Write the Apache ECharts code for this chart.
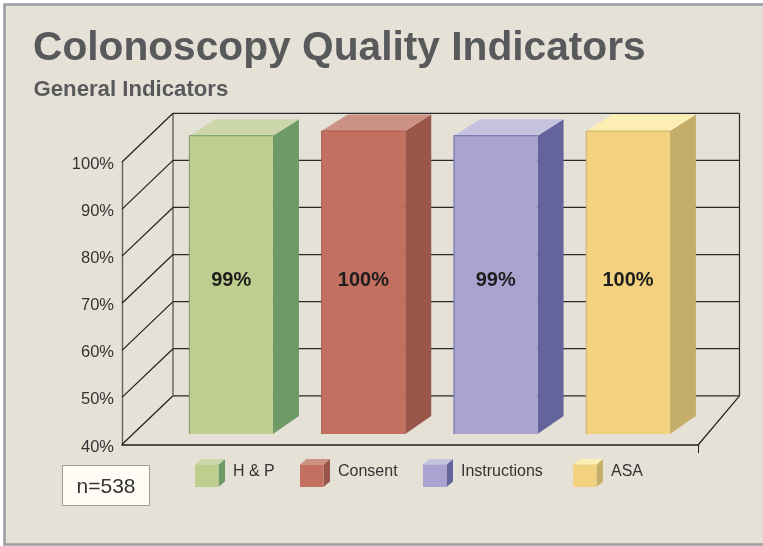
<!DOCTYPE html>
<html>
<head>
<meta charset="utf-8">
<title>Colonoscopy Quality Indicators</title>
<script src="https://cdn.jsdelivr.net/npm/echarts@6/dist/echarts.min.js"></script>
<style>
html, body { margin: 0; padding: 0; background: #fff; }
#chart { width: 763px; height: 546px; }
</style>
</head>
<body>
<div id="chart"></div>
<script>
var categories = ['H & P', 'Consent', 'Instructions', 'ASA'];
var values = [99, 100, 99, 100];
var yTicks = [40, 50, 60, 70, 80, 90, 100];
var sampleLabel = 'n=538';

var frontColors = ['#bfce8f', '#c37060', '#aaa3cf', '#f2d27f'];
var sideColors = ['#6e9a68', '#9a5649', '#65639c', '#c4ae6a'];
var topColors = ['#ccd8ab', '#cc9285', '#c5c2e0', '#fdeeb4'];
var edgeColors = ['#6f9c69', '#a85f50', '#6f6ba8', '#c9b36f'];
var legendX = [195, 300, 423, 573];

var font = '"Liberation Sans", Arial, sans-serif';
var chart = echarts.init(document.getElementById('chart'));

// depth of the back wall, in pixels
var wallDx = 51, wallDy = -48.7;
var floorDx = 41;

// the cubes stand inside the box, so they are lifted off the front plane
var barTopLift = -31, barBaseLift = -10.5;
var barDx = 26, barTopDy = -16.4, barBaseDy = -18;

function renderWall(params, api) {
    var tick = api.value(0);
    var y = api.coord([0, tick])[1];
    var box = params.coordSys;
    var x0 = box.x, x1 = box.x + box.width;
    var children = [
        { type: 'line', shape: { x1: x0, y1: y, x2: x0 + wallDx, y2: y + wallDy }, style: { stroke: '#1f1f1f', lineWidth: 1.2 } },
        { type: 'line', shape: { x1: x0 + wallDx, y1: y + wallDy, x2: x1 + floorDx, y2: y + wallDy }, style: { stroke: '#2a2a2a', lineWidth: 1.2 } }
    ];
    // only the floor level closes the box on the right
    if (tick === yTicks[0]) {
        var yTop = api.coord([0, yTicks[yTicks.length - 1]])[1] + wallDy;
        children.push(
            { type: 'line', shape: { x1: x0 + wallDx, y1: yTop, x2: x0 + wallDx, y2: y + wallDy }, style: { stroke: '#66625c', lineWidth: 1.4 } },
            { type: 'line', shape: { x1: x1 + floorDx, y1: yTop, x2: x1 + floorDx, y2: y + wallDy }, style: { stroke: '#2a2a2a', lineWidth: 1.2 } },
            { type: 'line', shape: { x1: x1, y1: y, x2: x1 + floorDx, y2: y + wallDy }, style: { stroke: '#1f1f1f', lineWidth: 1.2 } },
            { type: 'line', shape: { x1: x1, y1: y, x2: x1, y2: y + 8.5 }, style: { stroke: '#1f1f1f', lineWidth: 1 } }
        );
    }
    return { type: 'group', children: children };
}

function renderBar(params, api) {
    var i = api.value(0);
    var center = api.coord([i, api.value(1)]);
    var halfWidth = api.size([1, 0])[0] * 0.316;
    var xl = center[0] - halfWidth, xr = center[0] + halfWidth;
    var top = center[1] + barTopLift;
    var base = api.coord([i, yTicks[0]])[1] + barBaseLift;
    var labelY = api.coord([i, 74.8])[1];
    return {
        type: 'group',
        children: [
            { type: 'polygon', shape: { points: [[xr, top], [xr + barDx, top + barTopDy], [xr + barDx, base + barBaseDy], [xr, base]] }, style: { fill: sideColors[i] } },
            { type: 'polygon', shape: { points: [[xl, top], [xl + barDx, top + barTopDy], [xr + barDx, top + barTopDy], [xr, top]] }, style: { fill: topColors[i] } },
            { type: 'rect', shape: { x: xl, y: top, width: xr - xl, height: base - top }, style: { fill: frontColors[i] } },
            { type: 'polyline', shape: { points: [[xl, base], [xl, top], [xr, top]] }, style: { fill: 'none', stroke: edgeColors[i], lineWidth: 1 } },
            { type: 'text', style: { x: center[0], y: labelY, text: api.value(1) + '%', textAlign: 'center', textVerticalAlign: 'middle', font: 'bold 20px ' + font, fill: '#1d1d1d' } }
        ]
    };
}

// legend swatches and their labels
var legendGraphics = [];
categories.forEach(function (name, i) {
    var x = legendX[i], y = 464.5, w = 23.5, h = 22.5, dx = 6.5, dy = -5.5;
    legendGraphics.push(
        { type: 'polygon', z: 5, shape: { points: [[x + w, y], [x + w + dx, y + dy], [x + w + dx, y + h + dy], [x + w, y + h]] }, style: { fill: sideColors[i] } },
        { type: 'polygon', z: 5, shape: { points: [[x, y], [x + dx, y + dy], [x + w + dx, y + dy], [x + w, y]] }, style: { fill: topColors[i] } },
        { type: 'rect', z: 5, shape: { x: x, y: y, width: w, height: h }, style: { fill: frontColors[i] } },
        { type: 'text', z: 5, style: { x: x + w + 14.5, y: 471.5, text: name, textVerticalAlign: 'middle', font: '16px ' + font, fill: '#333' } }
    );
});

var option = {
    animation: false,
    graphic: [
        { type: 'rect', z: -10, shape: { x: 4.5, y: 4.5, width: 780, height: 540 }, style: { fill: '#e5e1d7', stroke: '#9c9ca0', lineWidth: 2.5 } },
        { type: 'rect', z: 5, shape: { x: 62.5, y: 465.5, width: 87, height: 40 }, style: { fill: '#fffcf6', stroke: '#9a9a96', lineWidth: 1 } },
        { type: 'text', z: 5, style: { x: 106, y: 487, text: sampleLabel, textAlign: 'center', textVerticalAlign: 'middle', font: '21px ' + font, fill: '#333' } }
    ].concat(legendGraphics),
    title: [
        { text: 'Colonoscopy Quality Indicators', left: 33, top: 28.5, padding: 0, textStyle: { fontFamily: font, fontWeight: 'bold', fontSize: 40.7, color: '#58595b' } },
        { text: 'General Indicators', left: 33.5, top: 79, padding: 0, textStyle: { fontFamily: font, fontWeight: 'bold', fontSize: 22.2, color: '#58595b' } }
    ],
    grid: [
        // wire frame, holds the visible scale
        { left: 122, width: 576.5, top: 162, height: 282.5 },
        // cubes, same vertical scale
        { left: 165, width: 529.2, top: 162, height: 282.5 }
    ],
    xAxis: [
        {
            type: 'category', gridIndex: 0, data: [''],
            axisTick: { show: false }, axisLabel: { show: false },
            axisLine: { lineStyle: { color: '#1f1f1f', width: 1.5 } }
        },
        { type: 'category', gridIndex: 1, data: categories, show: false }
    ],
    yAxis: [
        {
            type: 'value', gridIndex: 0, min: 40, max: 100, interval: 10,
            splitLine: { show: false }, axisTick: { show: false },
            axisLine: { show: true, lineStyle: { color: '#66625c', width: 1.4 } },
            axisLabel: {
                margin: 8, formatter: '{value}%', fontFamily: font, fontSize: 16.5,
                color: '#333', verticalAlign: 'top', lineHeight: 5
            }
        },
        { type: 'value', gridIndex: 1, min: 40, max: 100, interval: 10, show: false }
    ],
    series: [
        {
            type: 'custom', xAxisIndex: 0, yAxisIndex: 0, z: 1, silent: true,
            data: yTicks.map(function (t) { return [t]; }),
            encode: { y: 0 },
            renderItem: renderWall
        },
        {
            type: 'custom', xAxisIndex: 1, yAxisIndex: 1, z: 2,
            data: values.map(function (v, i) { return [i, v]; }),
            encode: { x: 0, y: 1 },
            renderItem: renderBar
        }
    ]
};
chart.setOption(option);
</script>
</body>
</html>
